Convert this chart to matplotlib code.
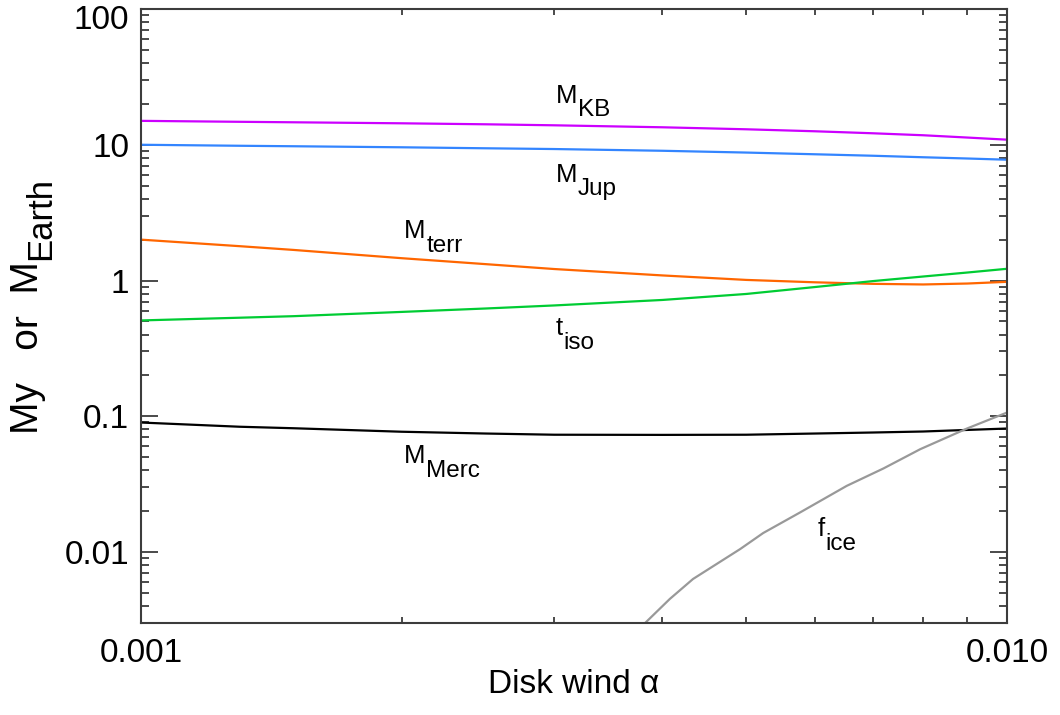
import numpy as np
import matplotlib.pyplot as plt
from matplotlib.ticker import FixedLocator, FixedFormatter, LogLocator, FuncFormatter, NullFormatter
from matplotlib.transforms import ScaledTranslation

plt.rcParams['font.family'] = ['Liberation Sans', 'DejaVu Sans']

# values
alpha = [0.001, 0.0013, 0.0015, 0.002, 0.0025, 0.003, 0.004, 0.005, 0.006, 0.007, 0.008, 0.009, 0.010]
m_kb = [15.0, 14.76, 14.64, 14.39, 14.15, 13.91, 13.45, 13.0, 12.57, 12.15, 11.75, 11.3, 10.9]
m_jup = [10.0, 9.83, 9.75, 9.58, 9.42, 9.30, 9.03, 8.76, 8.51, 8.30, 8.09, 7.92, 7.76]
m_terr = [2.00, 1.79, 1.68, 1.46, 1.32, 1.215, 1.09, 1.01, 0.97, 0.945, 0.935, 0.95, 0.978]
t_iso = [0.508, 0.532, 0.546, 0.587, 0.622, 0.655, 0.719, 0.796, 0.895, 0.99, 1.07, 1.145, 1.22]
m_merc = [0.0899, 0.0837, 0.0816, 0.0769, 0.0746, 0.0731, 0.0729, 0.0731, 0.0746, 0.0759, 0.0772, 0.0793, 0.0812]
alpha_ice = [0.00380, 0.00408, 0.00434, 0.00492, 0.00523, 0.00577, 0.00653, 0.00720, 0.00794, 0.00899, 0.010]
f_ice = [0.0029, 0.00451, 0.00633, 0.01052, 0.0138, 0.01958, 0.0307, 0.04125, 0.0572, 0.0812, 0.1065]

# curve labels: x, y (baseline), main text, subscript
labels = [(0.00301, 20.4, 'M', 'KB'),
          (0.00301, 5.35, 'M', 'Jup'),
          (0.00201, 2.04, 'M', 'terr'),
          (0.00301, 0.394, 't', 'iso'),
          (0.00201, 0.0451, 'M', 'Merc'),
          (0.00604, 0.0131, 'f', 'ice')]

fig = plt.figure(figsize=(10.6, 7.15), dpi=100)
ax = fig.add_axes([0.1330, 0.1287, 0.8170, 0.8587])

lw = 1.6
ax.plot(alpha, m_kb, color='#cc00ff', lw=lw)
ax.plot(alpha, m_jup, color='#3385ff', lw=lw)
ax.plot(alpha, m_terr, color='#ff6600', lw=lw)
ax.plot(alpha, t_iso, color='#00cc33', lw=lw)
ax.plot(alpha, m_merc, color='black', lw=lw)
ax.plot(alpha_ice, f_ice, color='#999999', lw=lw)

ax.set_xscale('log')
ax.set_yscale('log')
ax.set_xlim(0.001, 0.010)
ax.set_ylim(0.003, 100)

ax.xaxis.set_major_locator(FixedLocator([0.001, 0.010]))
ax.xaxis.set_major_formatter(FixedFormatter(['0.001', '0.010']))
ax.xaxis.set_minor_locator(LogLocator(base=10, subs=np.arange(2, 10)))
ax.xaxis.set_minor_formatter(NullFormatter())
ax.yaxis.set_major_locator(LogLocator(base=10))
ax.yaxis.set_major_formatter(FuncFormatter(lambda v, p: '%g' % v))
ax.yaxis.set_minor_locator(LogLocator(base=10, subs=np.arange(2, 10)))
ax.yaxis.set_minor_formatter(NullFormatter())

ax.tick_params(which='both', direction='in', top=True, right=True,
               color='#4a4a4a', width=1.4, labelsize=24)
ax.tick_params(axis='y', which='major', length=12.2, pad=8.6)
ax.tick_params(axis='y', which='minor', length=5.8)
ax.tick_params(axis='x', which='major', length=12.2, pad=10.8)
ax.tick_params(axis='x', which='minor', length=4)
for s in ax.spines.values():
    s.set_linewidth(1.5)
    s.set_color('#3c3c3c')

for x, y, main, sub in labels:
    t = ax.text(x, y, main, fontsize=18.5, ha='left', va='baseline')
    ax.annotate(sub, xy=(1, 0), xycoords=t, xytext=(0.8, -6.2),
                textcoords='offset points', fontsize=17.5, ha='left', va='baseline')

ax.set_xlabel('Disk wind \u03b1', fontsize=24, labelpad=0)

yl = fig.text(38 / 1060, 1 - 434 / 715, 'My   or  M', fontsize=28, rotation=90,
              rotation_mode='anchor', ha='left', va='baseline')
ax.annotate('Earth', xy=(1, 1), xycoords=yl, xytext=(2.7, 1),
            textcoords='offset points', fontsize=25, rotation=90,
            rotation_mode='anchor', ha='left', va='baseline')

# top label "100" sits a little lower so it stays inside the figure
fig.canvas.draw()
for tick in ax.yaxis.get_major_ticks():
    if tick.label1.get_text() == '100':
        lab = tick.label1
        lab.set_transform(lab.get_transform() + ScaledTranslation(0, -8 / 100, fig.dpi_scale_trans))

fig.savefig('out.png', dpi=100)
